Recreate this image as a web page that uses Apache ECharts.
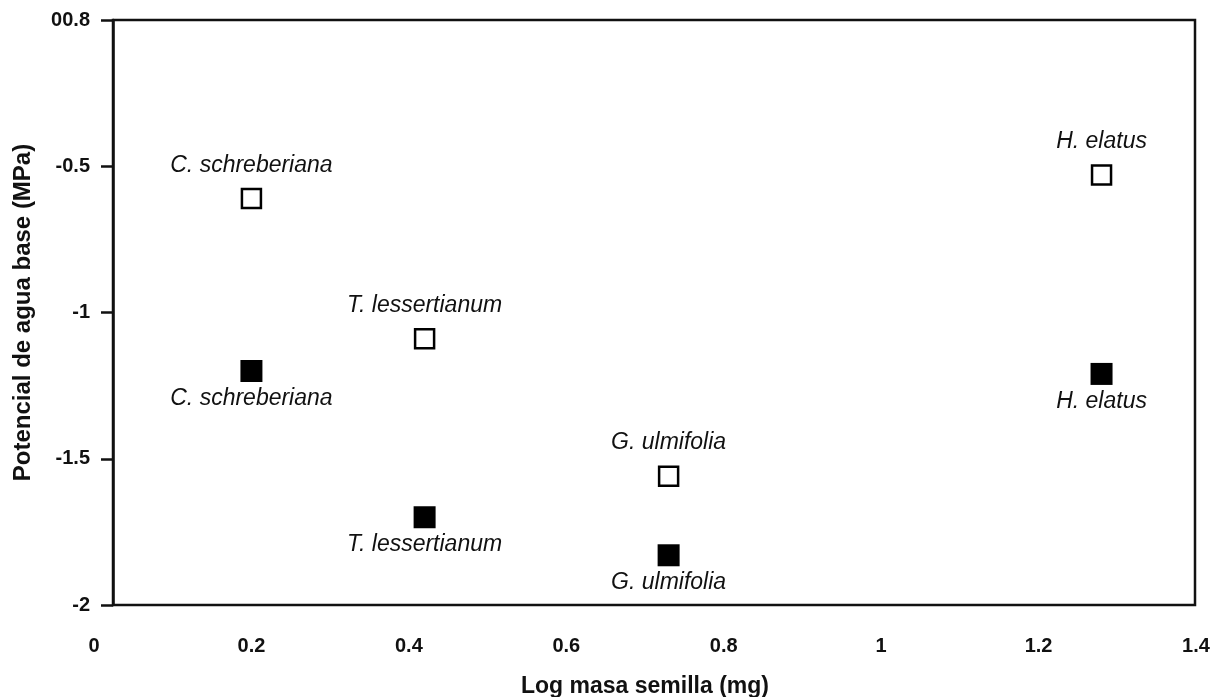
<!DOCTYPE html>
<html>
<head>
<meta charset="utf-8">
<script src="https://cdn.jsdelivr.net/npm/echarts@6/dist/echarts.min.js"></script>
<style>
    html, body { margin: 0; padding: 0; background: #fff; }
    #main_chart { width: 1211px; height: 697px; }
</style>
</head>
<body>
<div id="main_chart"></div>
<script>
// especies y valores
var species = ['C. schreberiana', 'T. lessertianum', 'G. ulmifolia', 'H. elatus'];
var logMass = [0.2, 0.42, 0.73, 1.28];
var openValues = [-0.61, -1.09, -1.56, -0.53];     // cuadrados vacios
var filledValues = [-1.2, -1.7, -1.83, -1.21];     // cuadrados llenos
var yTickValues = [-2, -1.5, -1, -0.5, 0];
var yTickLabels = ['-2', '-1.5', '-1', '-0.5', '00.8'];

var font = 'Liberation Sans, Arial, sans-serif';

function buildPoints(values) {
    return values.map(function (v, i) {
        return { value: [logMass[i], v], name: species[i] };
    });
}

var option = {
    animation: false,
    backgroundColor: '#fff',
    textStyle: { fontFamily: font },
    grid: [
        { left: 113, right: 16, top: 20, bottom: 92, show: true, borderColor: '#111', borderWidth: 2.5, outerBoundsMode: 'none', containLabel: false },
        { left: 94, right: 15, top: 20, bottom: 92, show: false, outerBoundsMode: 'none', containLabel: false }
    ],
    xAxis: [{
        gridIndex: 0,
        type: 'value',
        show: false,
        min: 0,
        max: 1
    }, {
        gridIndex: 1,
        type: 'value',
        min: 0,
        max: 1.4,
        interval: 0.2,
        axisLine: { show: false },
        axisTick: { show: false },
        splitLine: { show: false },
        axisLabel: {
            margin: 31,
            fontSize: 20,
            fontWeight: 'bold',
            color: '#111',
            fontFamily: font
        },
        name: 'Log masa semilla (mg)',
        nameLocation: 'middle',
        nameGap: 70,
        nameTextStyle: {
            fontSize: 23,
            fontWeight: 'bold',
            color: '#111',
            fontFamily: font
        }
    }],
    yAxis: [{
        gridIndex: 0,
        type: 'value',
        min: -2,
        max: 0,
        interval: 0.5,
        axisLine: { show: true, lineStyle: { color: '#111', width: 2.5 } },
        axisTick: { show: true, inside: false, length: 12, lineStyle: { color: '#111', width: 2.5 } },
        splitLine: { show: false },
        axisLabel: {
            margin: 23,
            fontSize: 20,
            fontWeight: 'bold',
            color: '#111',
            fontFamily: font,
            formatter: function (v) {
                var idx = yTickValues.indexOf(v);
                return idx >= 0 ? yTickLabels[idx] : '';
            }
        },
        name: 'Potencial de agua base (MPa)',
        nameLocation: 'middle',
        nameRotate: 90,
        nameGap: 78,
        nameTextStyle: {
            fontSize: 24,
            fontWeight: 'bold',
            color: '#111',
            fontFamily: font
        }
    }, {
        gridIndex: 1,
        type: 'value',
        min: -2,
        max: 0,
        show: false
    }],
    series: [{
        name: 'abiertos',
        type: 'scatter',
        xAxisIndex: 1,
        yAxisIndex: 1,
        symbol: 'rect',
        symbolSize: 19,
        itemStyle: { color: '#fff', borderColor: '#000', borderWidth: 2.5, opacity: 1 },
        label: {
            show: true,
            position: 'top',
            distance: 11,
            formatter: '{b}',
            fontSize: 23,
            fontStyle: 'italic',
            color: '#111',
            fontFamily: font
        },
        data: buildPoints(openValues)
    }, {
        name: 'llenos',
        type: 'scatter',
        xAxisIndex: 1,
        yAxisIndex: 1,
        symbol: 'rect',
        symbolSize: 22,
        itemStyle: { color: '#000', opacity: 1 },
        label: {
            show: true,
            position: 'bottom',
            distance: 5,
            formatter: '{b}',
            fontSize: 23,
            fontStyle: 'italic',
            color: '#111',
            fontFamily: font
        },
        data: buildPoints(filledValues)
    }]
};

echarts.init(document.getElementById('main_chart')).setOption(option);
</script>
</body>
</html>
